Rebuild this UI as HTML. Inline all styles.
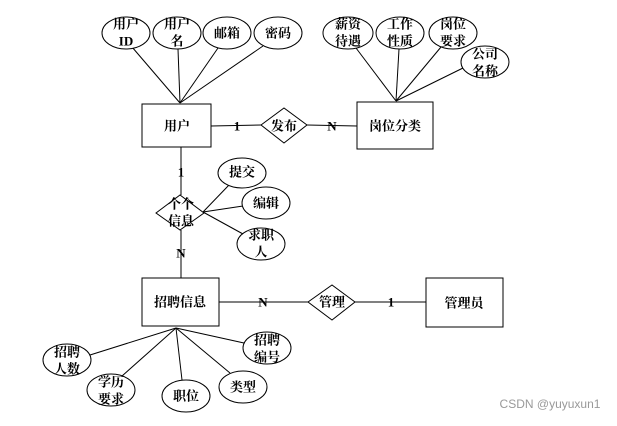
<!DOCTYPE html>
<html><head><meta charset="utf-8"><style>
html,body{margin:0;padding:0;background:#fff;}
svg text{font-family:"Liberation Serif","Noto Serif CJK SC",serif;font-weight:bold;font-size:13px;fill:#000;text-anchor:middle;dominant-baseline:central;}
</style></head><body>
<svg width="617" height="421" viewBox="0 0 617 421" xmlns="http://www.w3.org/2000/svg">
<g stroke="#000" stroke-width="1" fill="none">
<line x1="180" y1="103" x2="132" y2="47"/>
<line x1="180" y1="103" x2="178" y2="49"/>
<line x1="180" y1="103" x2="218" y2="48"/>
<line x1="180" y1="103" x2="263" y2="46"/>
<line x1="396" y1="101" x2="356" y2="48"/>
<line x1="396" y1="101" x2="399" y2="49"/>
<line x1="396" y1="101" x2="441" y2="47"/>
<line x1="396" y1="101" x2="463" y2="68"/>
<line x1="211" y1="126" x2="261" y2="125"/>
<line x1="307" y1="125" x2="357" y2="126"/>
<line x1="181" y1="147" x2="181" y2="195"/>
<line x1="181" y1="230" x2="181" y2="278"/>
<line x1="203" y1="212" x2="229" y2="185"/>
<line x1="203" y1="212" x2="243" y2="206"/>
<line x1="203" y1="212" x2="243" y2="234"/>
<line x1="219" y1="302" x2="308" y2="302"/>
<line x1="355" y1="302" x2="426" y2="302"/>
<line x1="176" y1="328" x2="90" y2="355"/>
<line x1="176" y1="328" x2="122" y2="376"/>
<line x1="176" y1="328" x2="182" y2="380"/>
<line x1="176" y1="328" x2="230" y2="373"/>
<line x1="176" y1="328" x2="244" y2="343"/>
</g>
<g stroke="#000" stroke-width="1" fill="#fff">
<ellipse cx="126" cy="33" rx="24" ry="16"/>
<ellipse cx="177" cy="33" rx="24" ry="16"/>
<ellipse cx="227" cy="33" rx="24" ry="16"/>
<ellipse cx="278" cy="33" rx="24" ry="16"/>
<ellipse cx="348" cy="33" rx="25" ry="16"/>
<ellipse cx="400" cy="33" rx="24" ry="16"/>
<ellipse cx="453" cy="33" rx="24" ry="16"/>
<ellipse cx="485" cy="62" rx="24" ry="16"/>
<rect x="142" y="104" width="69" height="43"/>
<rect x="357" y="102" width="76" height="47"/>
<polygon points="261,125 284,108 307,125 284,143"/>
<polygon points="156,213 180,195 204,213 180,230"/>
<ellipse cx="242" cy="173" rx="24" ry="15"/>
<ellipse cx="266" cy="203" rx="24" ry="16"/>
<ellipse cx="261" cy="244" rx="24" ry="16"/>
<rect x="142" y="278" width="77" height="48"/>
<polygon points="308,302 332,285 355,302 332,320"/>
<rect x="426" y="278" width="77" height="49"/>
<ellipse cx="67" cy="360" rx="24" ry="16"/>
<ellipse cx="111" cy="390" rx="24" ry="16"/>
<ellipse cx="186" cy="396" rx="24" ry="16"/>
<ellipse cx="243" cy="387" rx="24" ry="16"/>
<ellipse cx="267" cy="348" rx="24" ry="16"/>
</g>
<text x="126" y="24">用户</text><text x="126" y="41">ID</text>
<text x="177" y="24">用户</text><text x="177" y="41">名</text>
<text x="227" y="33">邮箱</text>
<text x="278" y="33">密码</text>
<text x="348" y="24">薪资</text><text x="348" y="41">待遇</text>
<text x="400" y="24">工作</text><text x="400" y="41">性质</text>
<text x="453" y="24">岗位</text><text x="453" y="41">要求</text>
<text x="485" y="54">公司</text><text x="485" y="71">名称</text>
<text x="177" y="126">用户</text>
<text x="395" y="126">岗位分类</text>
<text x="284" y="126">发布</text>
<text x="237" y="126">1</text>
<text x="332" y="126">N</text>
<text x="181" y="172">1</text>
<text x="181" y="204">个个</text><text x="181" y="221">信息</text>
<text x="181" y="253">N</text>
<text x="242" y="172">提交</text>
<text x="266" y="203">编辑</text>
<text x="261" y="235">求职</text><text x="261" y="252">人</text>
<text x="180" y="302">招聘信息</text>
<text x="332" y="302">管理</text>
<text x="464" y="303">管理员</text>
<text x="263" y="302">N</text>
<text x="391" y="302">1</text>
<text x="67" y="352">招聘</text><text x="67" y="369">人数</text>
<text x="111" y="382">学历</text><text x="111" y="399">要求</text>
<text x="186" y="396">职位</text>
<text x="243" y="387">类型</text>
<text x="267" y="340">招聘</text><text x="267" y="357">编号</text>
<text x="550" y="404" style="font-family:'Liberation Sans',sans-serif;font-weight:normal;font-size:12px;fill:#999">CSDN @yuyuxun1</text>
</svg>
</body></html>
